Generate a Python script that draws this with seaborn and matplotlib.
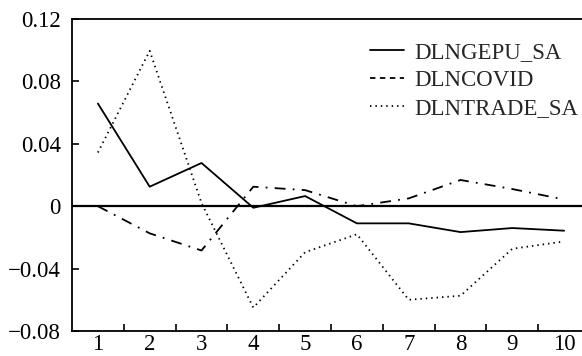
import numpy as np
import pandas as pd
import seaborn as sns
import matplotlib
matplotlib.use("Agg")
import matplotlib.pyplot as plt
from matplotlib.lines import Line2D

periods = [1, 2, 3, 4, 5, 6, 7, 8, 9, 10]
gepu = [0.0658, 0.0125, 0.0277, -0.001, 0.0065, -0.011, -0.011, -0.0166, -0.014, -0.0157]
covid = [0.0, -0.0174, -0.0284, 0.0125, 0.0103, 0.0, 0.005, 0.0168, 0.011, 0.0043]
trade = [0.0344, 0.0996, 0.002, -0.065, -0.0295, -0.018, -0.060, -0.0574, -0.0273, -0.0226]
series_names = ["DLNGEPU_SA", "DLNCOVID", "DLNTRADE_SA"]
yticks = [-0.08, -0.04, 0, 0.04, 0.08, 0.12]
ytick_labels = ["\u22120.08", "\u22120.04", "0", "0.04", "0.08", "0.12"]

sns.set_theme(style="white")
plt.rcParams['font.family'] = ['Liberation Serif', 'DejaVu Serif']

fig = plt.figure(figsize=(5.82, 3.56), dpi=100)
ax = fig.add_axes([72/582, 1 - 331/356, 1 - 72/582, (331 - 19)/356])

df = pd.DataFrame({"period": periods, "gepu": gepu, "covid": covid, "trade": trade})
ax.axhline(0, color="black", lw=1.6, zorder=1)
sns.lineplot(data=df, x="period", y="gepu", ax=ax, color="black", lw=1.3)
sns.lineplot(data=df, x="period", y="covid", ax=ax, color="black", lw=1.3,
             linestyle=(0, (6, 4, 1, 4)))
sns.lineplot(data=df, x="period", y="trade", ax=ax, color="black", lw=1.3,
             linestyle=(0, (0.8, 2.2)))

ax.set_xlim(0.5, 10.345)
ax.set_ylim(-0.08, 0.12)
ax.set_xlabel("")
ax.set_ylabel("")

ax.set_xticks(periods)
ax.set_xticklabels([str(p) for p in periods])
ax.set_xticks([p + 0.5 for p in periods[:-1]], minor=True)
ax.tick_params(axis="x", which="major", length=0, labelsize=16.5, pad=2, colors="black")
ax.tick_params(axis="x", which="minor", direction="in", length=5, width=1.2, color="black", bottom=True)
ax.set_yticks(yticks)
ax.set_yticklabels(ytick_labels)
ax.tick_params(axis="y", which="major", direction="in", length=5, width=1.2, labelsize=16.5,
               pad=8, colors="black", left=True)

for s in ["left", "bottom", "top"]:
    ax.spines[s].set_visible(True)
    ax.spines[s].set_color("black")
    ax.spines[s].set_linewidth(1.3)
ax.spines["right"].set_visible(False)

handles = [
    Line2D([], [], color="black", lw=1.3, linestyle="-"),
    Line2D([], [], color="black", lw=1.3, linestyle=(0, (3, 2.5))),
    Line2D([], [], color="black", lw=1.3, linestyle=(0, (0.8, 2.2))),
]
ax.legend(handles, series_names, loc="upper right", bbox_to_anchor=(1.02, 0.97),
          frameon=False, fontsize=16.5, handlelength=1.5, handletextpad=0.45,
          labelspacing=0.3, borderaxespad=0.2)

fig.savefig("out.png", dpi=100)
